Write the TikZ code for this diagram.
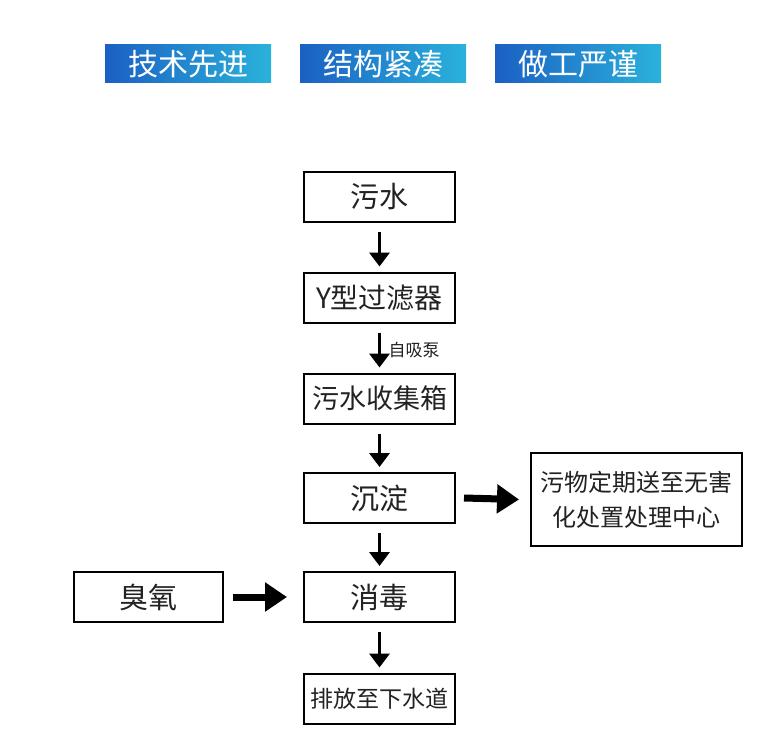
\documentclass[tikz,border=0pt]{standalone}
\usepackage{fontspec}
\setmainfont{Noto Sans CJK SC}
\usetikzlibrary{arrows.meta}
\definecolor{gradL}{HTML}{1B60C3}
\definecolor{gradR}{HTML}{2AB2DB}
\definecolor{ink}{HTML}{222222}
\begin{document}
\begin{tikzpicture}[x=1pt,y=-1pt,
  flowbox/.style={draw=black,line width=2pt,minimum width=151pt,minimum height=50pt,inner sep=0pt,text=ink,font=\fontsize{27}{30}\selectfont},
  tag/.style={left color=gradL,right color=gradR,text=white,minimum width=166pt,minimum height=38pt,inner sep=0pt,font=\fontsize{30}{34}\selectfont},
  down/.style={line width=3.5pt,-{Triangle[length=14pt,width=20pt]}},
  thick arrow/.style={line width=7pt,-{Triangle[length=22pt,width=28pt]}}]
\useasboundingbox (0,0) rectangle (773,749);
\fill[white] (0,0) rectangle (773,749);
\node[tag] (t1) at (188,64) {技术先进};
\node[tag] (t2) at (383,64) {结构紧凑};
\node[tag] (t3) at (578,64) {做工严谨};

\node[flowbox,font=\fontsize{29}{32}\selectfont] (a) at (379.5,197) {污水};
\node[flowbox,font=\fontsize{28}{32}\selectfont] (b) at (379.5,297.5) {Y型过滤器};
\node[flowbox] (c) at (379.5,398.5) {污水收集箱};
\node[flowbox,font=\fontsize{29}{32}\selectfont] (d) at (379.5,498) {沉淀};
\node[flowbox,minimum width=211pt,minimum height=93pt,align=center,font=\fontsize{24}{35}\selectfont] (e) at (636.5,499.5) {污物定期送至无害\\化处置处理中心};
\node[flowbox,font=\fontsize{29}{32}\selectfont] (f) at (379.5,597) {消毒};
\node[flowbox,minimum width=149pt,font=\fontsize{29}{32}\selectfont] (g) at (148.5,597) {臭氧};
\node[flowbox,font=\fontsize{23}{26}\selectfont] (h) at (379.5,698.5) {排放至下水道};

\draw[down] ([yshift=-9pt]a.south) -- ([yshift=5pt]b.north);
\draw[down] ([yshift=-9pt]b.south) -- ([yshift=5pt]c.north) node[midway,right=4pt,text=ink,font=\fontsize{17}{20}\selectfont] (pump) {自吸泵};
\draw[down] ([yshift=-9pt]c.south) -- ([yshift=5pt]d.north);
\draw[down] ([yshift=-9pt]d.south) -- ([yshift=5pt]f.north);
\draw[down] ([yshift=-9pt]f.south) -- ([yshift=5pt]h.north);
\draw[thick arrow] ([xshift=8pt]d.east) -- ([xshift=-11pt]e.west);
\draw[thick arrow] ([xshift=9pt]g.east) -- ([xshift=-16pt]f.west);
\end{tikzpicture}
\end{document}
